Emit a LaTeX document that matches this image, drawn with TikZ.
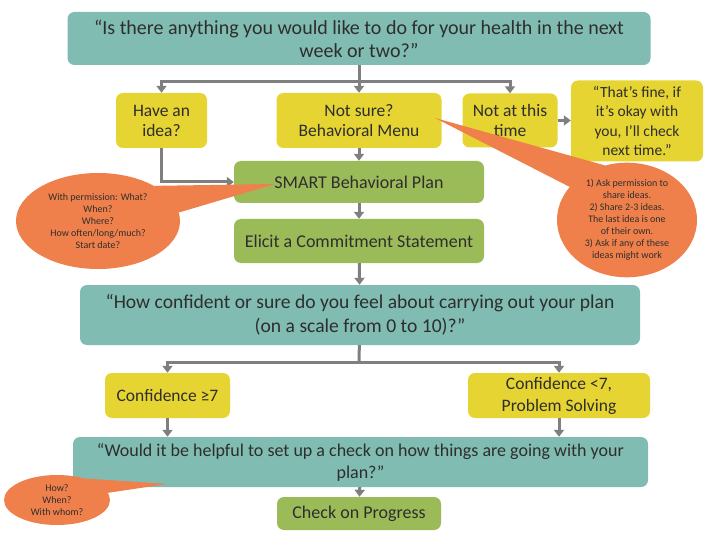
\documentclass[tikz,border=0pt]{standalone}
\usepackage{fontspec}
\setmainfont{Carlito}
\usepackage{tikz}
\usetikzlibrary{arrows.meta,positioning,shapes.geometric}
\definecolor{qteal}{HTML}{80BCB2}
\definecolor{qyellow}{HTML}{E6D432}
\definecolor{qgreen}{HTML}{9BBB59}
\definecolor{qorange}{HTML}{EF804B}
\definecolor{argray}{HTML}{7F7F7F}
\definecolor{ink}{HTML}{2E2E2E}

\begin{document}
\begin{tikzpicture}[x=1pt, y=-1pt,
  box/.style={rounded corners=7pt, align=center, inner sep=2pt, text=ink},
  ask/.style={box, fill=qteal, font=\fontsize{20}{23}\selectfont},
  opt/.style={box, fill=qyellow, font=\fontsize{17.5}{20}\selectfont},
  stepbox/.style={box, fill=qgreen, font=\fontsize{18}{20}\selectfont},
  bub/.style={ellipse, fill=qorange, inner sep=0pt, align=center, text=ink,
    font=\fontsize{10}{12}\selectfont},
  ln/.style={line width=3pt, draw=argray},
  ar/.style={ln, -{Triangle[length=7pt,width=10pt]}}]
  \useasboundingbox (0,0) rectangle (720,540);
  \node[ask, minimum width=583pt, minimum height=53pt] (q1) at (359,38.5)
    {“Is there anything you would like to do for your health in the next\\week or two?”};
  \node[opt, minimum width=91pt, minimum height=55pt] (idea) at (161.5,120.5) {Have an\\idea?};
  \node[opt, minimum width=165pt, minimum height=55pt] (menu) at (359,120.5) {Not sure?\\Behavioral Menu};
  \node[opt, minimum width=95pt, minimum height=54pt] (later) at (510,120.5) {Not at this\\time};
  \node[opt, minimum width=132pt, minimum height=81pt, font=\fontsize{15.5}{19.5}\selectfont] (fine) at (637,121)
    {“That’s fine, if\\it’s okay with\\you, I’ll check\\next time.”};
  \node[stepbox, minimum width=250pt, minimum height=42pt] (smart) at (359,182) {SMART Behavioral Plan};
  \node[stepbox, minimum width=250pt, minimum height=44pt] (elicit) at (359,241) {Elicit a Commitment Statement};
  \node[ask, minimum width=560pt, minimum height=60pt, font=\fontsize{19.6}{24}\selectfont] (q2) at (360,315)
    {“How confident or sure do you feel about carrying out your plan\\(on a scale from 0 to 10)?”};
  \node[opt, minimum width=125pt, minimum height=45pt] (hi) at (167.5,395.5) {Confidence ≥7};
  \node[opt, minimum width=182pt, minimum height=45pt, font=\fontsize{17.5}{22}\selectfont] (lo) at (559,395.5)
    {Confidence <7,\\Problem Solving};
  \node[ask, minimum width=575pt, minimum height=50pt, font=\fontsize{18}{22}\selectfont] (q3) at (360.5,462)
    {“Would it be helpful to set up a check on how things are going with your\\plan?”};
  \node[stepbox, minimum width=164pt, minimum height=33pt] (check) at (359,513.5)
    {Check on Progress};

  \coordinate (s1) at (359,82);
  \draw[ln] (q1) -- (s1);
  \draw[ar] (s1) -| (idea);
  \draw[ar] (s1) -- (menu);
  \draw[ar] (s1) -| (later);
  \draw[ar] (later.east) -- (later.east -| fine.west);
  \draw[ar] (idea) |- (smart);
  \draw[ar] (menu) -- (smart);
  \draw[ar] (smart) -- (elicit);
  \draw[ar] (elicit) -- (q2);
  \coordinate (s2) at (359,362);
  \draw[ln] (q2) -- (s2);
  \draw[ar] (s2) -| (hi);
  \draw[ar] (s2) -| (lo);
  \draw[ar] (hi.south) -- (hi.south |- q3.north);
  \draw[ar] (lo.south) -- (lo.south |- q3.north);
  \draw[ar] (q3) -- (check);

  \node[bub, minimum width=164pt, minimum height=96pt] (lb) at (98,221)
    {With permission: What?\\When?\\Where?\\How often/long/much?\\Start date?};
  \node[bub, minimum width=140pt, minimum height=100pt] (rb) at (627,220)
    {1) Ask permission to\\share ideas.\\2) Share 2-3 ideas.\\The last idea is one\\of their own.\\3) Ask if any of these\\ideas might work};
  \node[bub, minimum width=106pt, minimum height=50pt] (bb) at (57,500)
    {How?\\When?\\With whom?};
  \coordinate (lbtip) at (275,184);
  \coordinate (rbtip) at (435,118);
  \coordinate (bbtip) at (167,484);
  \fill[qorange] (lb.32) -- (lbtip) -- (lb.6) -- cycle;
  \fill[qorange] (rb.150) -- (rbtip) -- (rb.112) -- cycle;
  \fill[qorange] (bb.38) -- (bbtip) -- (bb.8) -- cycle;
\end{tikzpicture}
\end{document}
